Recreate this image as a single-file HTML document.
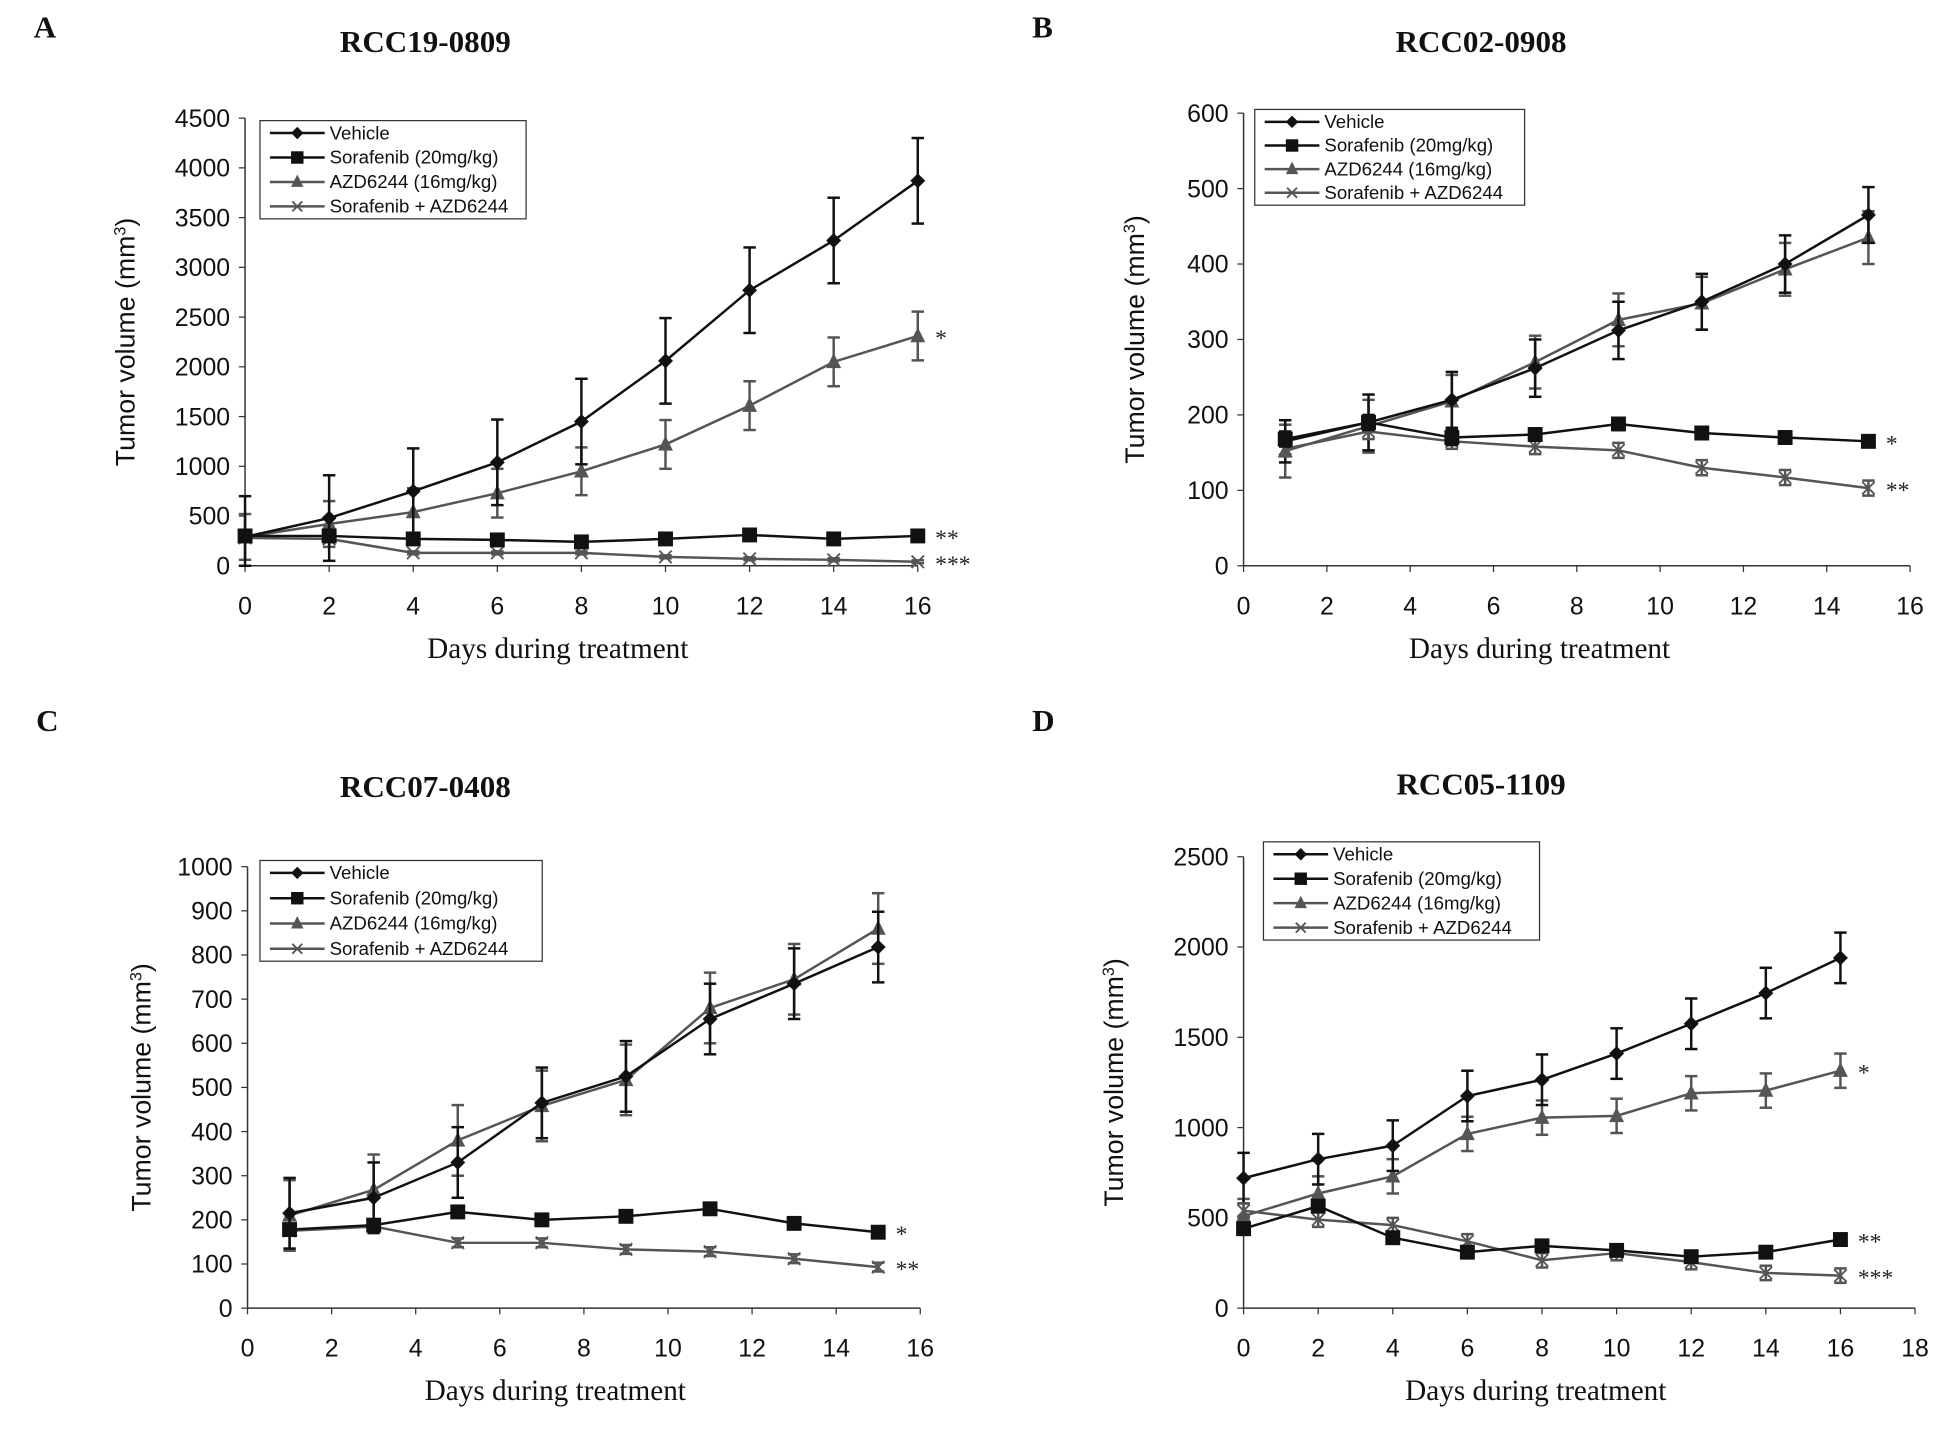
<!DOCTYPE html>
<html><head><meta charset="utf-8"><style>
html,body{margin:0;padding:0;background:#fff;}
svg{display:block;}
.tick{font-family:"Liberation Sans",sans-serif;font-size:20px;fill:#111;}
.ttl{font-family:"Liberation Serif",serif;font-size:25px;font-weight:bold;fill:#111;}
.xl{font-family:"Liberation Serif",serif;font-size:23.5px;fill:#111;}
.yl{font-family:"Liberation Sans",sans-serif;font-size:21.5px;fill:#111;}
.lg{font-family:"Liberation Sans",sans-serif;font-size:15px;fill:#111;}
.ast{font-family:"Liberation Serif",serif;font-size:19px;fill:#222;}
</style></head><body>
<svg id="fig" width="1940" height="1430" viewBox="0 0 1560 1150" xmlns="http://www.w3.org/2000/svg"></svg>
<script>
// ---------- data ----------
const seriesNames = ["Vehicle","Sorafenib (20mg/kg)","AZD6244 (16mg/kg)","Sorafenib + AZD6244"];
const daysA = [0,2,4,6,8,10,12,14,16];
const vehA = [290,480,750,1040,1450,2060,2770,3270,3870];
const vehErrA = [410,430,430,430,430,430,430,430,430];
const sorA = [300,300,270,260,240,270,310,270,300];
const sorErrA = [15,15,15,15,15,15,15,15,15];
const azdA = [290,420,540,730,950,1220,1610,2050,2310];
const azdErrA = [230,230,240,245,240,245,245,245,245];
const comA = [280,270,130,130,130,90,70,60,40];
const comErrA = [15,15,15,15,15,15,15,15,15];
const ticksA = [0,500,1000,1500,2000,2500,3000,3500,4000,4500];

const daysB = [1,3,5,7,9,11,13,15];
const vehB = [165,190,220,262,312,350,400,465];
const vehErrB = [28,37,37,38,38,37,38,37];
const sorB = [168,190,170,174,188,176,170,165];
const sorErrB = [10,10,10,8,8,8,8,8];
const azdB = [152,185,218,270,326,348,393,435];
const azdErrB = [35,35,35,35,35,35,35,35];
const comB = [155,178,165,158,153,130,117,103];
const comErrB = [10,10,10,10,10,10,10,10];
const ticksB = [0,100,200,300,400,500,600];

const daysC = [1,3,5,7,9,11,13,15];
const vehC = [215,250,330,465,525,655,735,818];
const vehErrC = [80,80,80,80,80,80,80,80];
const sorC = [178,188,218,200,208,225,192,172];
const sorErrC = [10,10,10,10,10,10,10,10];
const azdC = [210,268,380,458,517,680,745,860];
const azdErrC = [80,80,80,80,80,80,80,80];
const comC = [175,185,148,148,133,128,112,93];
const comErrC = [10,10,10,10,10,10,10,10];
const ticksC = [0,100,200,300,400,500,600,700,800,900,1000];

const daysD = [0,2,4,6,8,10,12,14,16];
const vehD = [720,825,900,1175,1265,1410,1575,1745,1940];
const vehErrD = [140,140,140,140,140,140,140,140,140];
const sorD = [440,565,390,310,345,320,285,310,380];
const sorErrD = [15,15,15,15,15,15,15,15,15];
const azdD = [510,635,730,965,1055,1065,1190,1205,1315];
const azdErrD = [95,95,95,95,95,95,95,95,95];
const comD = [540,490,460,370,265,305,255,195,180];
const comErrD = [40,40,40,40,40,40,40,40,40];
const ticksD = [0,500,1000,1500,2000,2500];

const NS="http://www.w3.org/2000/svg";
const svg=document.getElementById('fig');
function mk(tag,attrs,parent){const e=document.createElementNS(NS,tag);for(const k in attrs)e.setAttribute(k,attrs[k]);(parent||svg).appendChild(e);return e;}

function panel(cfg){
  const g=mk('g',{});
  
  
  const X=v=>cfg.x0+(v-cfg.xmin)/(cfg.xmax-cfg.xmin)*(cfg.x1-cfg.x0);
  const Y=v=>cfg.y0-(v/cfg.ymax)*(cfg.y0-cfg.y1);
  let t=mk('text',{x:cfg.lx,y:cfg.ly,class:'ttl','font-size':22},g);t.textContent=cfg.letter;
  
  t=mk('text',{x:cfg.tx,y:cfg.ty,class:'ttl','text-anchor':'middle'},g);t.textContent=cfg.title;
  
  let a=mk('line',{x1:cfg.x0,y1:cfg.y0,x2:cfg.x0,y2:cfg.y1,stroke:'#333','stroke-width':1.2},g);
  
  a=mk('line',{x1:cfg.x0,y1:cfg.y0,x2:X(cfg.xmax),y2:cfg.y0,stroke:'#333','stroke-width':1.2},g);
  
  cfg.yt.forEach(v=>{
    mk('line',{x1:cfg.x0-5,y1:Y(v),x2:cfg.x0,y2:Y(v),stroke:'#333'},g);
    const tt=mk('text',{x:cfg.x0-12,y:Y(v)+7,class:'tick','text-anchor':'end'},g);tt.textContent=v;
    
  });
  for(let v=cfg.xmin;v<=cfg.xmax;v+=2){
    mk('line',{x1:X(v),y1:cfg.y0,x2:X(v),y2:cfg.y0+5,stroke:'#333'},g);
    const tt=mk('text',{x:X(v),y:cfg.y0+39,class:'tick','text-anchor':'middle'},g);tt.textContent=v;
    
  }
  t=mk('text',{x:(cfg.x0+cfg.x1)/2+cfg.xlOff,y:cfg.y0+74,class:'xl','text-anchor':'middle'},g);t.textContent='Days during treatment';
  
  t=mk('text',{x:0,y:0,class:'yl','text-anchor':'middle',transform:`translate(${cfg.ylx},${(cfg.y0+cfg.y1)/2}) rotate(-90)`},g);
  t.innerHTML='Tumor volume (mm<tspan baseline-shift="super" font-size="13">3</tspan>)';
  
  const cols=['#111','#111','#555','#555'];
  const kinds=['diamond','square','tri','x'];
  const order=[2,0,3,1];
  order.forEach(i=>{
    const d=cfg.series[i],e=cfg.errs[i],c=cols[i];
    const sg=mk('g',{},g);
    
    
    d.forEach((v,j)=>{
      const x=X(cfg.days[j]);
      mk('line',{x1:x,y1:Y(v+e[j]),x2:x,y2:Y(Math.max(0,v-e[j])),stroke:c,'stroke-width':2},sg);
      mk('line',{x1:x-5,y1:Y(v+e[j]),x2:x+5,y2:Y(v+e[j]),stroke:c,'stroke-width':2},sg);
      mk('line',{x1:x-5,y1:Y(Math.max(0,v-e[j])),x2:x+5,y2:Y(Math.max(0,v-e[j])),stroke:c,'stroke-width':2},sg);
    });
    mk('polyline',{points:d.map((v,j)=>X(cfg.days[j])+','+Y(v)).join(' '),fill:'none',stroke:c,'stroke-width':2},sg);
    d.forEach((v,j)=>marker(sg,kinds[i],X(cfg.days[j]),Y(v),c,6));
    const last=d.length-1;
    const s=cfg.ast[i];
    if(s){const at=mk('text',{x:X(cfg.days[last])+14,y:Y(d[last])+8,class:'ast'},sg);at.textContent=s;
      }
  });
  const L=cfg.leg;
  const lg=mk('g',{},g);
  
  mk('rect',{x:L[0],y:L[1],width:L[2],height:L[3],fill:'#fff',stroke:'#333','stroke-width':1},lg);
  seriesNames.forEach((n,i)=>{
    const yy=L[1]+10+i*(L[3]-20)/3;
    const eg=mk('g',{},lg);
    
    mk('line',{x1:L[0]+8,y1:yy,x2:L[0]+52,y2:yy,stroke:cols[i],'stroke-width':2},eg);
    marker(eg,kinds[i],L[0]+30,yy,cols[i],5);
    const lt=mk('text',{x:L[0]+56,y:yy+5,class:'lg'},eg);lt.textContent=n;
  });
}
function marker(p,k,x,y,c,r){
  if(k==='diamond')mk('polygon',{points:`${x},${y-r} ${x+r},${y} ${x},${y+r} ${x-r},${y}`,fill:c},p);
  else if(k==='square')mk('rect',{x:x-r,y:y-r,width:2*r,height:2*r,fill:c},p);
  else if(k==='tri')mk('polygon',{points:`${x},${y-r-1} ${x+r},${y+r-1} ${x-r},${y+r-1}`,fill:c},p);
  else{mk('line',{x1:x-r+1,y1:y-r+1,x2:x+r-1,y2:y+r-1,stroke:c,'stroke-width':1.5},p);mk('line',{x1:x-r+1,y1:y+r-1,x2:x+r-1,y2:y-r+1,stroke:c,'stroke-width':1.5},p);}
}
panel({letter:'A',lx:27,ly:30,title:'RCC19-0809',tx:342,ty:42,x0:197,x1:738,xmin:0,xmax:16,y0:455,y1:95,ymax:4500,yt:ticksA,
  days:daysA,series:[vehA,sorA,azdA,comA],errs:[vehErrA,sorErrA,azdErrA,comErrA],ast:['','**','*','***'],
  leg:[209,97,214,79],ylx:108,xlOff:-19});
panel({letter:'B',lx:830,ly:30,title:'RCC02-0908',tx:1191,ty:42,x0:1000,x1:1536,xmin:0,xmax:16,y0:455,y1:91,ymax:600,yt:ticksB,
  days:daysB,series:[vehB,sorB,azdB,comB],errs:[vehErrB,sorErrB,azdErrB,comErrB],ast:['','*','','**'],
  leg:[1009,88,217,77],ylx:920,xlOff:-30});
panel({letter:'C',lx:29,ly:588,title:'RCC07-0408',tx:342,ty:641,x0:199,x1:740,xmin:0,xmax:16,y0:1052,y1:697,ymax:1000,yt:ticksC,
  days:daysC,series:[vehC,sorC,azdC,comC],errs:[vehErrC,sorErrC,azdErrC,comErrC],ast:['','*','','**'],
  leg:[209,692,227,81],ylx:121,xlOff:-23});
panel({letter:'D',lx:830,ly:588,title:'RCC05-1109',tx:1191,ty:639,x0:1000,x1:1540,xmin:0,xmax:18,y0:1052,y1:689,ymax:2500,yt:ticksD,
  days:daysD,series:[vehD,sorD,azdD,comD],errs:[vehErrD,sorErrD,azdErrD,comErrD],ast:['','**','*','***'],
  leg:[1016,677,222,79],ylx:903,xlOff:-35});
</script>
</body></html>
